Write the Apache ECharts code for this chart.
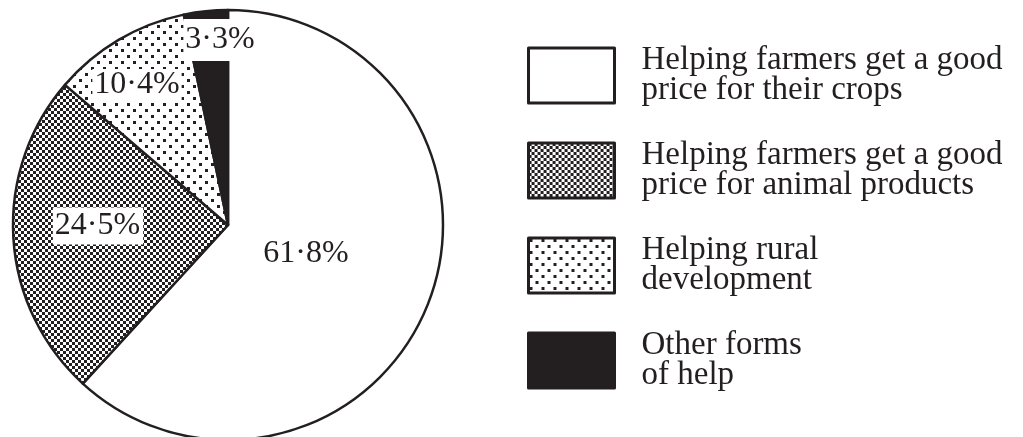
<!DOCTYPE html>
<html>
<head>
<meta charset="utf-8">
<script src="https://cdn.jsdelivr.net/npm/echarts@6/dist/echarts.min.js"></script>
<style>
html,body{margin:0;padding:0;background:#fff;}
#chart{width:1023px;height:437px;}
</style>
</head>
<body>
<div id="chart"></div>
<script>
// ---- data ----
const categories = [
  'Helping farmers get a good\nprice for their crops',
  'Helping farmers get a good\nprice for animal products',
  'Helping rural\ndevelopment',
  'Other forms\nof help'
];
const values = [61.8, 24.5, 10.4, 3.3];

// ---- styling (not data) ----
const INK = '#231f20';
const labelPos = [[306, 254], [98, 226], [137, 85], [220, 40]];
const labelPad = [[0, 0, 0, 0], [2, 3, 3, 2], [0, 2, 0, 2], [5, 2, 5, 2]];

function makeChecker(cell) {
  const c = document.createElement('canvas');
  c.width = c.height = cell * 2;
  const g = c.getContext('2d');
  g.fillStyle = '#fff'; g.fillRect(0, 0, c.width, c.height);
  g.fillStyle = INK;
  g.fillRect(0, 0, cell, cell);
  g.fillRect(cell, cell, cell, cell);
  return c;
}
function makeDots() {
  const c = document.createElement('canvas');
  c.width = 12; c.height = 12;
  const g = c.getContext('2d');
  g.fillStyle = '#fff'; g.fillRect(0, 0, 12, 12);
  g.fillStyle = INK;
  g.fillRect(1, 1, 3, 3);
  g.fillRect(7, 7, 3, 3);
  return c;
}
const fills = [
  '#ffffff',
  { image: makeChecker(3), repeat: 'repeat' },
  { image: makeDots(), repeat: 'repeat' },
  INK
];

const FONT = '"Liberation Serif", "Times New Roman", serif';

const chart = echarts.init(document.getElementById('chart'), null, { renderer: 'canvas' });
chart.setOption({
  animation: false,
  backgroundColor: '#fff',
  legend: {
    orient: 'vertical',
    left: 527,
    top: 44,
    padding: 0,
    itemWidth: 86,
    itemHeight: 55,
    itemGap: 32,
    selectedMode: false,
    icon: 'rect',
    itemStyle: { borderColor: INK, borderWidth: 3 },
    textStyle: {
      fontFamily: FONT,
      fontSize: 33,
      lineHeight: 30,
      color: INK,
      padding: [0, 0, 0, 22]
    },
    data: categories
  },
  series: [{
    type: 'pie',
    center: [228, 225],
    radius: 215,
    startAngle: 90,
    clockwise: true,
    avoidLabelOverlap: false,
    emphasis: { disabled: true },
    itemStyle: { borderColor: INK, borderWidth: 2.5 },
    labelLine: { show: false },
    label: {
      show: true,
      position: 'inside',
      fontFamily: FONT,
      fontSize: 32,
      color: INK,
      backgroundColor: '#fff',
      formatter: p => p.value.toFixed(1).replace('.', '\u00b7') + '%'
    },
    labelLayout: p => ({
      x: labelPos[p.dataIndex][0],
      y: labelPos[p.dataIndex][1],
      align: 'center',
      verticalAlign: 'middle'
    }),
    data: categories.map((name, i) => ({
      name: name,
      value: values[i],
      itemStyle: { color: fills[i] },
      label: { padding: labelPad[i] }
    }))
  }]
});
</script>
</body>
</html>
